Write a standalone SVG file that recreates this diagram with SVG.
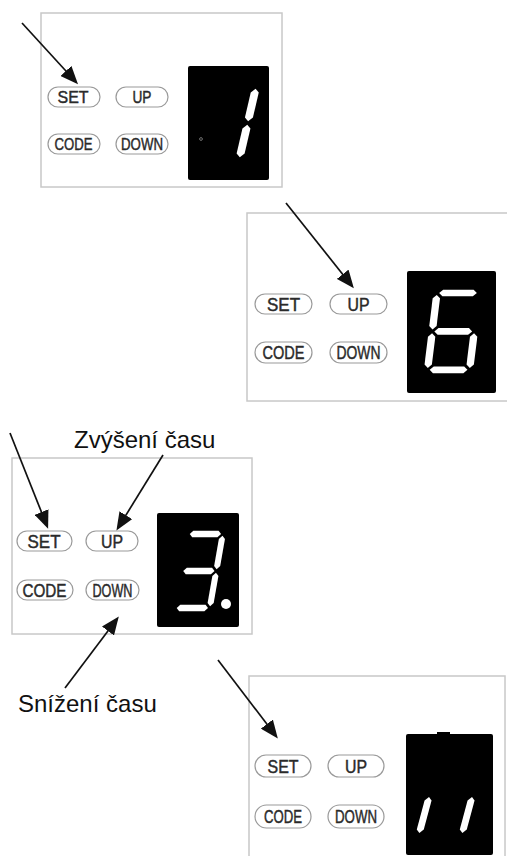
<svg xmlns="http://www.w3.org/2000/svg" width="507" height="856" viewBox="0 0 507 856">
<style>
.panel{fill:#fff;stroke:#c8c8c8;stroke-width:1.5}
.pill{fill:#fff;stroke:#9a9a9a;stroke-width:1.2}
.btn{font-family:"Liberation Sans",Arial,sans-serif;fill:#2a2a2a;stroke:#2a2a2a;stroke-width:0.45;text-anchor:middle}
.disp{fill:#000}
.seg{fill:#fff}
.lbl{font-family:"Liberation Sans",Arial,sans-serif;font-size:24px;fill:#111}
.arr{stroke:#111;stroke-width:1.7;fill:none;marker-end:url(#ah)}
</style>
<defs>
<marker id="ah" markerUnits="userSpaceOnUse" markerWidth="18" markerHeight="15" viewBox="0 0 18 15" refX="15" refY="7.5" orient="auto">
<path d="M0,0 L18,7.5 L0,15 z" fill="#111"/>
</marker>
<polygon id="h" points="0,0 3.5,-3.5 32.5,-3.5 36,0 32.5,3.5 3.5,3.5"/>
<polygon id="v" points="0,0 3.5,3.5 3.5,32.5 0,36 -3.5,32.5 -3.5,3.5"/>
<polygon id="vw" points="0,0 4,4 4,32 0,36 -4,32 -4,4"/>
</defs>

<g id="panel1">
<rect class="panel" x="41" y="13" width="241" height="174"/>
<rect class="pill" x="48" y="87" width="52" height="20" rx="10"/>
<text class="btn" x="73" y="103" font-size="17" textLength="31" lengthAdjust="spacingAndGlyphs">SET</text>
<rect class="pill" x="116" y="87" width="52" height="20" rx="10"/>
<text class="btn" x="142" y="103" font-size="17" textLength="19" lengthAdjust="spacingAndGlyphs">UP</text>
<rect class="pill" x="48" y="134" width="52" height="20" rx="10"/>
<text class="btn" x="73.5" y="150" font-size="17" textLength="38" lengthAdjust="spacingAndGlyphs">CODE</text>
<rect class="pill" x="116" y="134" width="52" height="20" rx="10"/>
<text class="btn" x="142" y="150" font-size="17" textLength="42" lengthAdjust="spacingAndGlyphs">DOWN</text>
<rect class="disp" x="188" y="66" width="81" height="114" rx="2"/>
<circle cx="201" cy="139" r="1.4" fill="none" stroke="#888" stroke-width="0.8"/>
<g class="seg" transform="translate(216,87) skewX(-13) scale(1,0.9)">
<use href="#vw" x="40" y="2"/>
<use href="#vw" x="40" y="42"/>
</g>
</g>

<g id="panel2">
<rect class="panel" x="247" y="213" width="265" height="188"/>
<rect class="pill" x="255" y="294" width="57" height="20" rx="10"/>
<text class="btn" x="283.5" y="310.5" font-size="18" textLength="33" lengthAdjust="spacingAndGlyphs">SET</text>
<rect class="pill" x="330" y="294" width="57" height="20" rx="10"/>
<text class="btn" x="358.5" y="310.5" font-size="18" textLength="22" lengthAdjust="spacingAndGlyphs">UP</text>
<rect class="pill" x="255" y="342" width="57" height="21" rx="10.5"/>
<text class="btn" x="283.5" y="359" font-size="18" textLength="42" lengthAdjust="spacingAndGlyphs">CODE</text>
<rect class="pill" x="330" y="342" width="57" height="21" rx="10.5"/>
<text class="btn" x="358.5" y="359" font-size="18" textLength="44" lengthAdjust="spacingAndGlyphs">DOWN</text>
<rect class="disp" x="407" y="271" width="89" height="122" rx="2"/>
<g class="seg" transform="translate(437,293) skewX(-7) scale(1.05,0.96)">
<use href="#h" x="2" y="0"/>
<use href="#v" x="0" y="2"/>
<use href="#h" x="2" y="40"/>
<use href="#v" x="0" y="42"/>
<use href="#v" x="40" y="42"/>
<use href="#h" x="2" y="80"/>
</g>
</g>

<g id="panel3">
<rect class="panel" x="12" y="458" width="240" height="176"/>
<rect class="pill" x="17" y="531" width="55" height="20" rx="10"/>
<text class="btn" x="44" y="547.5" font-size="18" textLength="33" lengthAdjust="spacingAndGlyphs">SET</text>
<rect class="pill" x="86" y="531" width="52" height="20" rx="10"/>
<text class="btn" x="112" y="547.5" font-size="18" textLength="22" lengthAdjust="spacingAndGlyphs">UP</text>
<rect class="pill" x="17" y="580" width="56" height="20" rx="10"/>
<text class="btn" x="44.5" y="596.5" font-size="18" textLength="44" lengthAdjust="spacingAndGlyphs">CODE</text>
<rect class="pill" x="86" y="580" width="53" height="20" rx="10"/>
<text class="btn" x="112.5" y="596.5" font-size="18" textLength="40" lengthAdjust="spacingAndGlyphs">DOWN</text>
<rect class="disp" x="157" y="513" width="82" height="114" rx="2"/>
<g class="seg" transform="translate(188,534) skewX(-10) scale(0.87,0.925)">
<use href="#h" x="2" y="0"/>
<use href="#v" x="40" y="2"/>
<use href="#h" x="2" y="40"/>
<use href="#v" x="40" y="42"/>
<use href="#h" x="2" y="80"/>
</g>
<circle class="seg" cx="226" cy="604" r="5"/>
</g>

<g id="panel4">
<rect class="panel" x="249" y="676" width="256" height="190"/>
<rect class="pill" x="255" y="755" width="56" height="22" rx="11"/>
<text class="btn" x="283" y="772.5" font-size="18" textLength="31" lengthAdjust="spacingAndGlyphs">SET</text>
<rect class="pill" x="328" y="755" width="56" height="22" rx="11"/>
<text class="btn" x="356" y="772.5" font-size="18" textLength="22" lengthAdjust="spacingAndGlyphs">UP</text>
<rect class="pill" x="255" y="805" width="56" height="23" rx="11.5"/>
<text class="btn" x="283" y="823" font-size="18" textLength="38" lengthAdjust="spacingAndGlyphs">CODE</text>
<rect class="pill" x="328" y="805" width="56" height="23" rx="11.5"/>
<text class="btn" x="356" y="823" font-size="18" textLength="42" lengthAdjust="spacingAndGlyphs">DOWN</text>
<rect class="disp" x="406" y="734" width="87" height="121" rx="2"/>
<rect class="disp" x="437" y="732" width="13" height="3"/>
<use class="seg" href="#v" transform="translate(429,797) skewX(-15)"/>
<use class="seg" href="#v" transform="translate(472,797) skewX(-15)"/>
</g>

<g id="labels">
<text class="lbl" x="74" y="448">Zvýšení času</text>
<text class="lbl" x="18" y="712">Snížení času</text>
</g>

<g id="connectors">
<line class="arr" x1="22" y1="23" x2="76" y2="82"/>
<line class="arr" x1="286" y1="203" x2="352" y2="286"/>
<line class="arr" x1="10" y1="433" x2="47" y2="526"/>
<line class="arr" x1="163" y1="455" x2="118" y2="528"/>
<line class="arr" x1="65" y1="688" x2="117" y2="619"/>
<line class="arr" x1="218" y1="660" x2="276" y2="736"/>
</g>
</svg>
